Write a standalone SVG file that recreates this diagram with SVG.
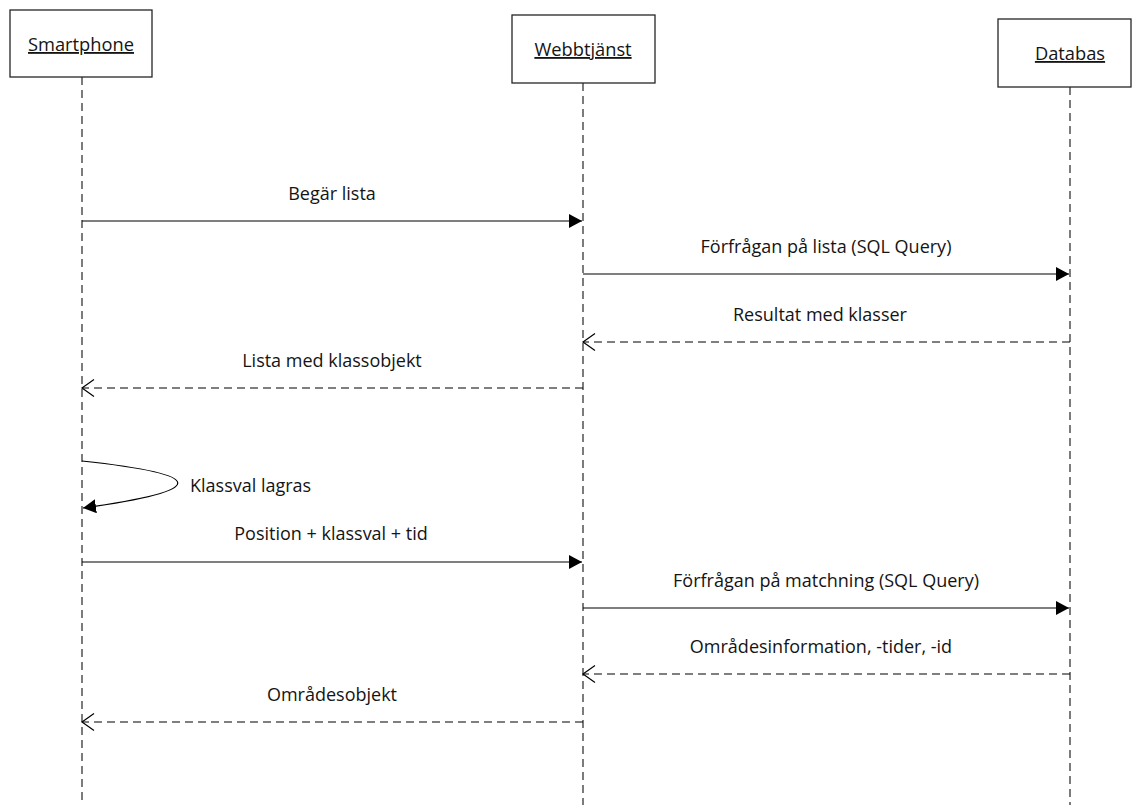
<svg xmlns="http://www.w3.org/2000/svg" width="1132" height="805" viewBox="0 0 1132 805">
  <style>
    .box { fill: #ffffff; stroke: #262626; stroke-width: 1.3; }
    .life { stroke: #111; stroke-width: 1.1; stroke-dasharray: 8 5; fill: none; }
    .msg { stroke: #000; stroke-width: 1.2; fill: none; }
    .ret { stroke: #000; stroke-width: 1.2; fill: none; stroke-dasharray: 8 5; }
    .lbl { font-family: "Open Sans", "Liberation Sans", sans-serif; font-size: 18px; fill: #141414; }
    .hdr { font-family: "Open Sans", "Liberation Sans", sans-serif; font-size: 18.3px; fill: #141414; text-decoration: underline; }
  </style>
  <defs>
    <marker id="solidHead" markerUnits="userSpaceOnUse" markerWidth="14" markerHeight="14" refX="13" refY="7" orient="auto">
      <path d="M0,0 L13,7 L0,14 z" fill="#000"/>
    </marker>
    <marker id="openHead" markerUnits="userSpaceOnUse" markerWidth="16" markerHeight="20" refX="13" refY="9.5" orient="auto">
      <path d="M1,1 L13,9.5 L1,18" fill="none" stroke="#000" stroke-width="1.2"/>
    </marker>
  </defs>

  <rect width="1132" height="805" fill="#ffffff"/>

  <!-- Participants with lifelines -->
  <g id="smartphone">
    <line class="life" x1="82" y1="77" x2="82" y2="805"/>
    <rect class="box" x="10" y="10" width="142" height="67"/>
    <text class="hdr" x="81" y="51" text-anchor="middle">Smartphone</text>
  </g>
  <g id="webbtjanst">
    <line class="life" x1="583" y1="83" x2="583" y2="805"/>
    <rect class="box" x="512" y="15" width="143" height="68"/>
    <text class="hdr" x="583" y="56" text-anchor="middle">Webbtjänst</text>
  </g>
  <g id="databas">
    <line class="life" x1="1070" y1="87" x2="1070" y2="805"/>
    <rect class="box" x="998" y="19" width="133" height="68"/>
    <text class="hdr" x="1070" y="60" text-anchor="middle">Databas</text>
  </g>

  <!-- Messages -->
  <g id="connectors">
    <line class="msg" x1="82" y1="221" x2="582" y2="221" marker-end="url(#solidHead)"/>
    <line class="msg" x1="583" y1="274" x2="1069" y2="274" marker-end="url(#solidHead)"/>
    <line class="ret" x1="1070" y1="342" x2="583" y2="342" marker-end="url(#openHead)"/>
    <line class="ret" x1="583" y1="388" x2="82" y2="388" marker-end="url(#openHead)"/>
    <path class="msg" d="M82,461 Q273,481.5 83,508" marker-end="url(#solidHead)"/>
    <line class="msg" x1="82" y1="562" x2="582" y2="562" marker-end="url(#solidHead)"/>
    <line class="msg" x1="583" y1="608" x2="1069" y2="608" marker-end="url(#solidHead)"/>
    <line class="ret" x1="1070" y1="674" x2="583" y2="674" marker-end="url(#openHead)"/>
    <line class="ret" x1="583" y1="722" x2="82" y2="722" marker-end="url(#openHead)"/>
  </g>

  <g id="labels">
    <text class="lbl" x="332" y="200" text-anchor="middle">Begär lista</text>
    <text class="lbl" x="826" y="253" text-anchor="middle">Förfrågan på lista (SQL Query)</text>
    <text class="lbl" x="820" y="321" text-anchor="middle">Resultat med klasser</text>
    <text class="lbl" x="332" y="367" text-anchor="middle">Lista med klassobjekt</text>
    <text class="lbl" x="190" y="492">Klassval lagras</text>
    <text class="lbl" x="331" y="540" text-anchor="middle">Position + klassval + tid</text>
    <text class="lbl" x="826" y="587" text-anchor="middle">Förfrågan på matchning (SQL Query)</text>
    <text class="lbl" x="821" y="653" text-anchor="middle">Områdesinformation, -tider, -id</text>
    <text class="lbl" x="332" y="701" text-anchor="middle">Områdesobjekt</text>
  </g>
</svg>
